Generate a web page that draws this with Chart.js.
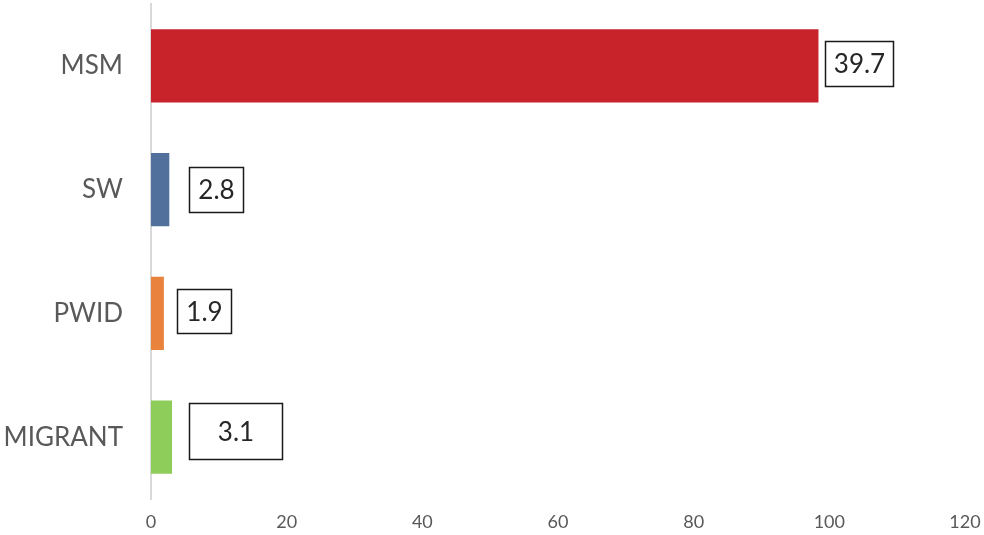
<!DOCTYPE html>
<html>
<head>
<meta charset="utf-8">
<script src="https://cdn.jsdelivr.net/npm/chart.js@4/dist/chart.umd.min.js"></script>
<style>
    html, body { margin: 0; padding: 0; background: #ffffff; }
    canvas { display: block; }
</style>
</head>
<body>
<canvas id="chart" width="984" height="535"></canvas>
<script>
    "use strict";

    // data
    var groups = ["MSM", "SW", "PWID", "MIGRANT"];
    var barValues = [98.4, 2.7, 1.9, 3.1];
    var valueLabels = ["39.7", "2.8", "1.9", "3.1"];
    var xTicks = [0, 20, 40, 60, 80, 100, 120];

    var BAR_COLORS = ["#c8232b", "#52709c", "#e8823d", "#8fcd5a"];
    var TEXT_COLOR = "#595959";
    var FONT = "Lato, 'Open Sans', sans-serif";

    // hand placed boxes, one per bar: gap after bar end, width, height, vertical shift
    var BOXES = [
        { gap: 7, w: 68, h: 45, dy: -2 },
        { gap: 20, w: 54, h: 45, dy: 0 },
        { gap: 13, w: 54, h: 44, dy: -2 },
        { gap: 17, w: 93, h: 56, dy: -6 }
    ];

    var boxLabels = {
        id: "boxLabels",
        afterDatasetsDraw: function(chart) {
            var ctx = chart.ctx;
            var meta = chart.getDatasetMeta(0);
            ctx.save();
            ctx.font = "26px " + FONT;
            ctx.textAlign = "center";
            ctx.textBaseline = "middle";
            for (var i = 0; i < meta.data.length; i++) {
                var bar = meta.data[i];
                var b = BOXES[i];
                var left = Math.round(bar.x + b.gap) + 0.5;
                var top = Math.round(bar.y + b.dy - b.h / 2) + 0.5;
                ctx.fillStyle = "#ffffff";
                ctx.fillRect(left, top, b.w, b.h);
                ctx.lineWidth = 1.5;
                ctx.strokeStyle = "#1a1a1a";
                ctx.strokeRect(left, top, b.w, b.h);
                ctx.fillStyle = "#262626";
                ctx.fillText(valueLabels[i], left + b.w / 2, top + b.h / 2 + 1);
            }
            ctx.restore();
        }
    };

    new Chart(document.getElementById("chart"), {
        type: "bar",
        data: {
            labels: groups,
            datasets: [{
                data: barValues,
                backgroundColor: BAR_COLORS,
                borderWidth: 0,
                barPercentage: 0.59,
                categoryPercentage: 1
            }]
        },
        options: {
            indexAxis: "y",
            responsive: false,
            animation: false,
            layout: { padding: { top: 4, right: 19, left: 0, bottom: 0 } },
            plugins: {
                legend: { display: false },
                tooltip: { enabled: false }
            },
            scales: {
                x: {
                    min: 0,
                    max: 120,
                    afterBuildTicks: function(scale) {
                        scale.ticks = xTicks.map(function(v) { return { value: v }; });
                    },
                    afterFit: function(scale) {
                        scale.height = 36;
                        scale.paddingLeft = 0;
                        scale.paddingRight = 0;
                    },
                    grid: { display: false, drawTicks: false },
                    border: { display: false },
                    ticks: {
                        padding: 12,
                        color: TEXT_COLOR,
                        font: { family: FONT, size: 18 }
                    }
                },
                y: {
                    afterFit: function(scale) {
                        scale.width = 151;
                        scale.paddingTop = 0;
                        scale.paddingBottom = 0;
                    },
                    grid: { display: false, drawTicks: false },
                    border: { display: true, color: "#d9d9d9", width: 2 },
                    ticks: {
                        padding: 28,
                        color: TEXT_COLOR,
                        font: { family: FONT, size: 26 }
                    }
                }
            }
        },
        plugins: [boxLabels]
    });
</script>
</body>
</html>
